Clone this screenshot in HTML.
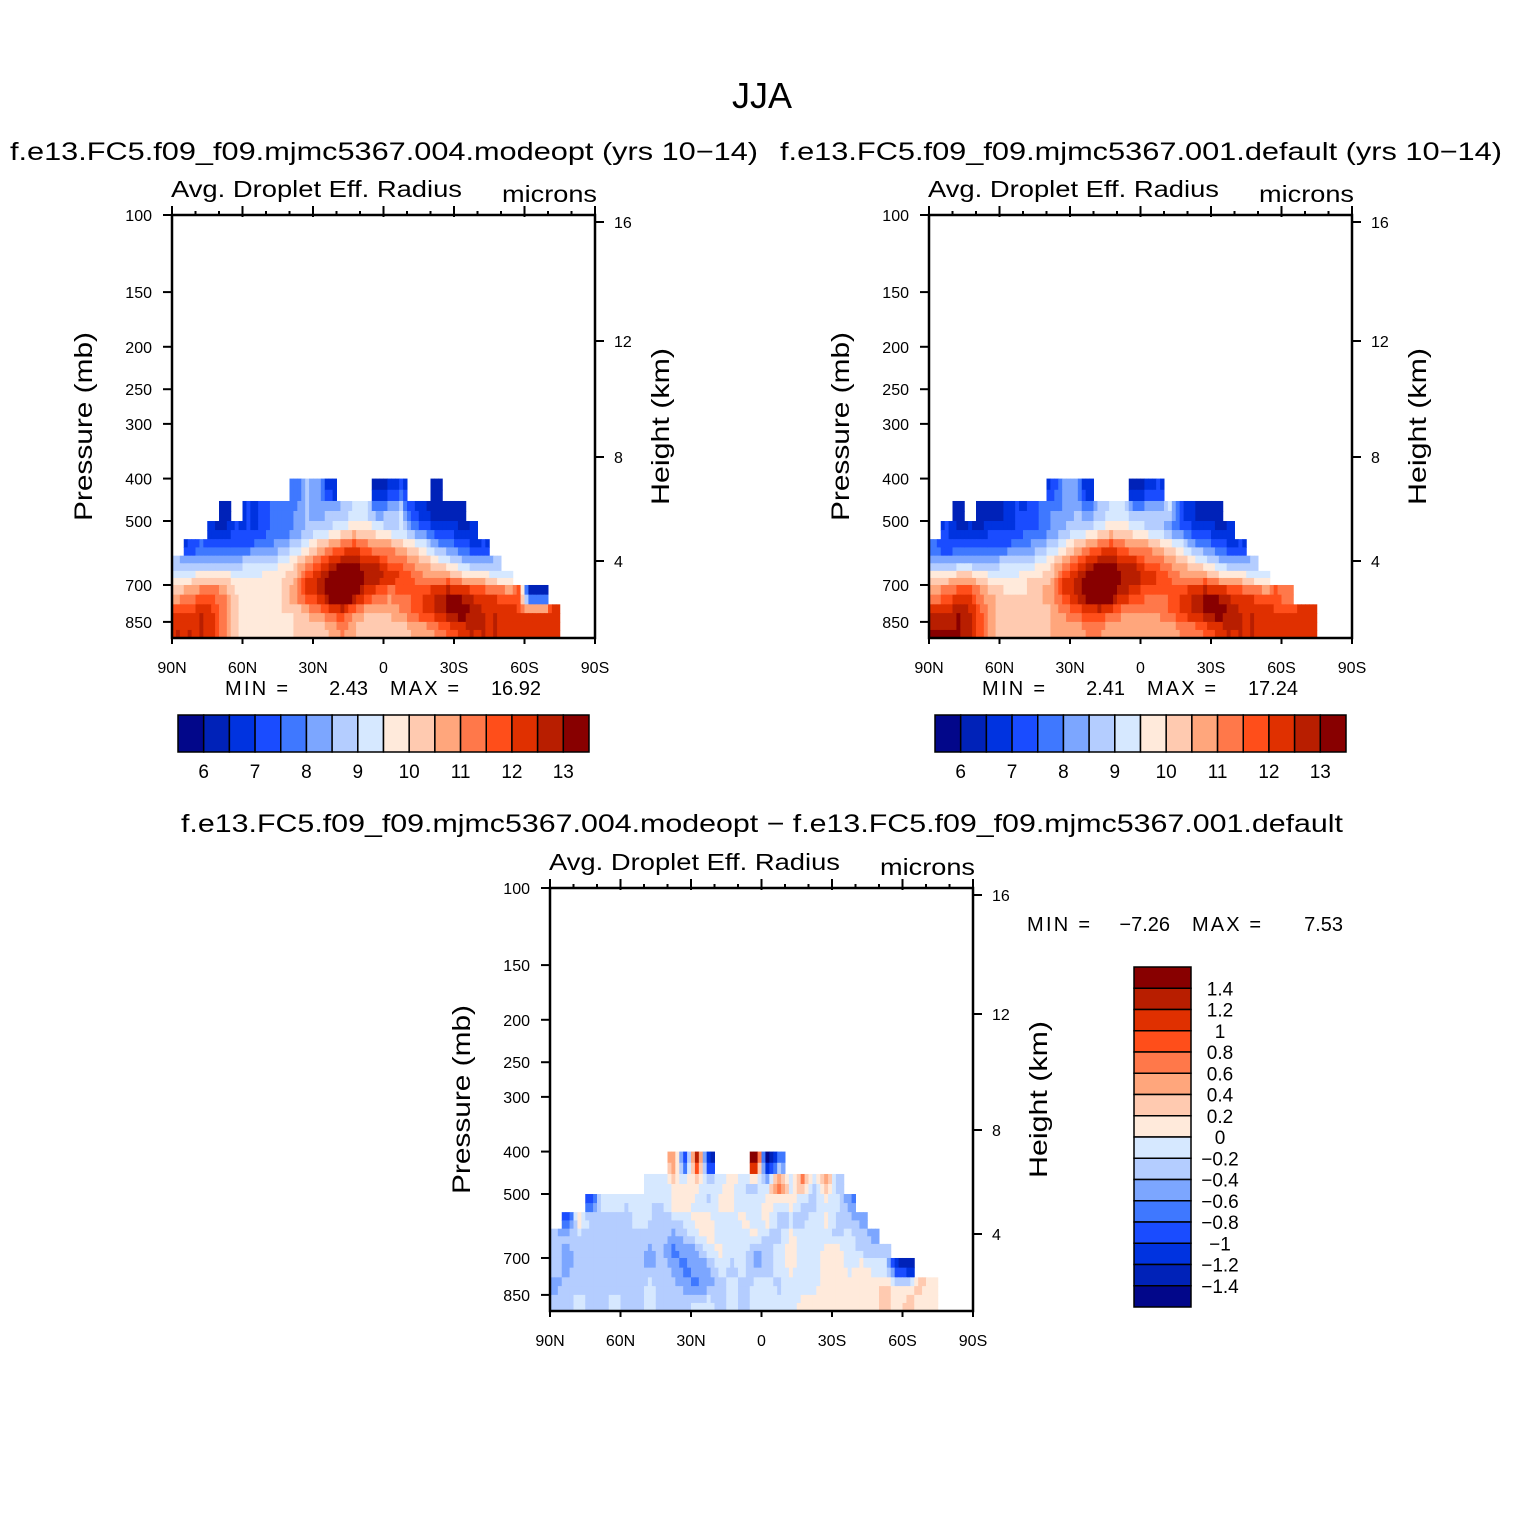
<!DOCTYPE html>
<html><head><meta charset="utf-8"><style>
html,body{margin:0;padding:0;background:#fff;}
svg{display:block;font-family:"Liberation Sans",sans-serif;}
</style></head><body>
<svg id="root" width="1524" height="1524" viewBox="0 0 1524 1524" xmlns="http://www.w3.org/2000/svg">
<rect width="1524" height="1524" fill="#fff"/>
<text x="762" y="108" font-size="36" text-anchor="middle">JJA</text>
<text x="10" y="160" font-size="25" textLength="748" lengthAdjust="spacingAndGlyphs">f.e13.FC5.f09_f09.mjmc5367.004.modeopt (yrs 10−14)</text>
<text x="780" y="160" font-size="25" textLength="722" lengthAdjust="spacingAndGlyphs">f.e13.FC5.f09_f09.mjmc5367.001.default (yrs 10−14)</text>
<text x="181" y="832" font-size="25" textLength="1162" lengthAdjust="spacingAndGlyphs">f.e13.FC5.f09_f09.mjmc5367.004.modeopt − f.e13.FC5.f09_f09.mjmc5367.001.default</text>
</svg>
<script>
// ---- data ----
const pressureLevels=[400,450,500,550,600,650,700,775,850,925];
const latStep=5;
const colorLevelsAbs=[6,6.5,7,7.5,8,8.5,9,9.5,10,10.5,11,11.5,12,12.5,13];
const colorLevelsDiff=[-1.4,-1.2,-1,-0.8,-0.6,-0.4,-0.2,0,0.2,0.4,0.6,0.8,1,1.2,1.4];
const palette=["#02078a","#0022b8","#0033e0","#1a4cff","#3f78ff","#7ca6ff","#b4cdff","#d6e8ff","#ffeadb","#ffcab0","#ffa67c","#ff784a","#ff4e1a","#e03000","#b81e00","#880000"];
const pressureTicks=[100,150,200,250,300,400,500,700,850];
const latTicks=[90,60,30,0,-30,-60,-90];
const latTickLabels=["90N","60N","30N","0","30S","60S","90S"];
const heightTickLabels=["16","12","8","4"];
const absBarLabels=["6","7","8","9","10","11","12","13"];
const diffBarLabels=["1.4","1.2","1","0.8","0.6","0.4","0.2","0","−0.2","−0.4","−0.6","−0.8","−1","−1.2","−1.4"];

const p1Start=[10,4,3,1,0,0,0,0,0];
const p1Rows=[
[7.5,8.5,8,6.5,null,null,null,6,6.5,7,null,null,6],
[6,null,7,7,7.5,7.5,8,8.5,8,8.5,8.5,9,9,8,8.5,9,7,6.5,6,6,6],
[6.5,6.5,7,7,7,7.5,7.5,8,8.5,9,9,9.5,10,10,9.5,9,9,8,7.5,7,7,6.5,6.5],
[7,7.5,7.5,7.5,7.5,7.5,8,8,8.5,9,9.5,10.5,11,11.5,12,11.5,11,11,10.5,10,9.5,8.5,8,7.5,7,7],
[8.5,8.5,8.5,8.5,8.5,8.5,9,9,9,9.5,10,11,11.5,12.5,13,13,12.5,12.5,11.5,11.5,11,10.5,10,9.5,9,8.5,8.5,8.5],
[9.5,9.5,10,10,10,9.5,9.5,9.5,10,10,10.5,12,12.5,13.5,14,14,13,13,12.5,12,11.5,11,11,11,10.5,10,10,9.5,9],
[10.5,11,11.5,11.5,11,10,9.5,9.5,9.5,10,11,12,12.5,13.5,14,13.5,12,11.5,11,11.5,11.5,12,12.5,13,13,12.5,12,12,11.5,11.5,6,6],
[12,12,12.5,12,11,10,9.5,9.5,9.5,10,10,10.5,11,11.5,12,11,10.5,10.5,10.5,11,11.5,12,12.5,13,13.5,13,12.5,12.5,12.5,12,12,12,12],
[12.5,12.5,12.5,12,11,10,9.5,9.5,9.5,9.5,10,10,10,10.5,11,10.5,10,10,10,10,10.5,10.5,11,11.5,12,12.5,12.5,12.5,12,12,12,12,12]];

const p2Start=[10,2,1,0,0,0,0,0,0];
const p2Rows=[
[7,8,8,6.5,null,null,null,6,6.5,7],
[6,null,6,6,6.5,7,7,7.5,8,8,8.5,8,8.5,9,9,8.5,8.5,8.5,9,7,6.5,6,6],
[7,6.5,6.5,6.5,7,7,7,7.5,7.5,8,8.5,9,9,9.5,10,10,9.5,9,9,8,7.5,7,7,6.5,6.5],
[7.5,7,7.5,7.5,7.5,7.5,7.5,8,8,8.5,9,9.5,10.5,11,11.5,12,11.5,11,11,10.5,10,9.5,8.5,8,7.5,7,7],
[8.5,8.5,8.5,8.5,8.5,8.5,9,9,9,9.5,10,11,11.5,12.5,13,13,12.5,12.5,11.5,11.5,11,10.5,10,9.5,9,8.5,8.5,8.5],
[10,10,10.5,10.5,10,9.5,9.5,9.5,10,10,10.5,12,12.5,13.5,14,14,13,13,12.5,12,11.5,11,11,11,10.5,10,10,9.5,9],
[11,11.5,12,12,11,10.5,10,10,10,10.5,11,12,12.5,13.5,14,13.5,12.5,12,11.5,11.5,11.5,12,12.5,13,13,12.5,12,12,11.5,11.5,11],
[12.5,12.5,13,12.5,11.5,10.5,10,10,10,10,10.5,11,11.5,12,12,11.5,11,11,11,11,11.5,12,12.5,13,13.5,13,12.5,12.5,12.5,12,12,12,12],
[13,13,13,12.5,11.5,10.5,10,10,10,10,10.5,10.5,10.5,11,11,10.5,10.5,10.5,10.5,10.5,10.5,11,11,11.5,12,12.5,12.5,12.5,12,12,12,12,12]];

const p3Start=[10,8,3,1,0,0,0,0,0];
const p3Rows=[
[0.5,-1.0,1.2,-1.2,null,null,null,1.5,-1.5,-0.8],
[-0.1,-0.2,0.1,0.1,0.1,-0.1,-0.1,0.1,-0.2,-0.3,-0.1,1.0,-0.1,0.6,-0.2,0.5,-0.3],
[-0.9,-0.1,-0.1,-0.2,-0.1,-0.2,-0.2,0.1,0.1,-0.1,-0.3,0.1,0.1,-0.2,-0.1,0.1,-0.1,0.1,-0.3,-0.3,-0.1,-0.1,-0.6],
[-0.9,0.1,-0.2,-0.3,-0.3,-0.3,-0.1,-0.2,-0.3,-0.3,-0.1,0.1,0.1,-0.2,-0.1,0.1,-0.1,0.1,-0.3,-0.3,-0.3,-0.1,0.1,-0.3,-0.3,-0.5],
[-0.4,-0.3,-0.3,-0.3,-0.3,-0.3,-0.3,-0.3,-0.3,-0.3,-0.5,-0.3,-0.1,0.1,-0.1,-0.1,-0.1,0.1,-0.3,-0.3,0.1,-0.1,-0.1,-0.1,-0.3,-0.1,-0.3,-0.5],
[-0.3,-0.5,-0.3,-0.3,-0.3,-0.3,-0.3,-0.3,-0.5,-0.3,-0.7,-0.5,-0.5,-0.1,0.1,-0.1,-0.1,-0.5,-0.3,-0.1,0.1,-0.1,-0.1,0.1,0.1,-0.1,-0.3,-0.3,-0.3],
[-0.3,-0.5,-0.3,-0.3,-0.3,-0.3,-0.3,-0.3,-0.5,-0.3,-0.5,-0.7,-0.5,-0.5,-0.1,-0.3,-0.1,-0.5,-0.3,-0.1,0.1,-0.1,-0.1,0.1,0.1,-0.1,0.1,-0.1,-0.1,-1.2,-1.4],
[-0.5,-0.3,-0.3,-0.3,-0.3,-0.3,-0.3,-0.3,-0.1,-0.3,-0.3,-0.5,-0.7,-0.5,-0.3,-0.1,-0.3,-0.1,-0.1,-0.3,-0.1,-0.1,-0.1,0.1,0.1,0.1,0.1,0.1,0.3,0.1,0.1,0.3,0.1],
[-0.3,-0.3,-0.1,-0.3,-0.3,-0.1,-0.3,-0.3,-0.1,-0.3,-0.3,-0.3,-0.1,-0.1,-0.3,-0.1,-0.3,-0.1,-0.1,-0.1,-0.1,0.1,0.1,0.1,0.1,0.1,0.1,0.1,0.3,0.1,0.3,0.1,0.1]];

const minMax1=["2.43","16.92"], minMax2=["2.41","17.24"], minMax3=["−7.26","7.53"];

// ---- drawing ----
const NS="http://www.w3.org/2000/svg";
const root=document.getElementById('root');
function mk(tag,attrs,parent){const e=document.createElementNS(NS,tag);for(const k in attrs)e.setAttribute(k,attrs[k]);(parent||root).appendChild(e);return e;}
function colorIndex(v,levels){let i=0;while(i<levels.length&&v>=levels[i])i++;return i;}
const W=423,H=423,PXDEC=437.8;
const SUBX=3,SUBY=2;

function drawPanel(x0,y0,starts,rows,levels,mm,mmPos,name){
  const g=mk('g',{});
  
  
  const xs=lat=>x0+(90-lat)*W/180;
  const ys=p=>y0+Math.log10(p/100)*PXDEC;
  const val=(r,c)=>{if(r<0||r>=rows.length)return null;const i=c-starts[r];if(i<0||i>=rows[r].length)return null;const v=rows[r][i];return v===undefined?null:v;};
  const cells=mk('g',{},g);
  
  
  rows.forEach((row,r)=>{
    const ya=ys(pressureLevels[r]),yb=ys(pressureLevels[r+1]);
    row.forEach((v,i)=>{
      if(v===null)return;
      const c=starts[r]+i;
      const xa=xs(90-c*latStep),xb=xs(90-(c+1)*latStep);
      for(let sy=0;sy<SUBY;sy++){
        for(let sx=0;sx<SUBX;sx++){
          const fx=(sx+0.5)/SUBX-0.5, fy=(sy+0.5)/SUBY-0.5;
          const cn=c+(fx<0?-1:1), rn=r+(fy<0?-1:1);
          const ax=Math.abs(fx), ay=Math.abs(fy);
          const vx=val(r,cn)===null?v:val(r,cn);
          const vy=val(rn,c)===null?v:val(rn,c);
          let vxy=val(rn,cn); if(vxy===null) vxy=(vx+vy)/2;
          const iv=v*(1-ax)*(1-ay)+vx*ax*(1-ay)+vy*(1-ax)*ay+vxy*ax*ay;
          const cw=(xb-xa)/SUBX, ch=(yb-ya)/SUBY;
          const rc=mk('rect',{x:(xa+sx*cw).toFixed(2),y:(ya+sy*ch).toFixed(2),width:(cw+0.5).toFixed(2),height:(ch+0.5).toFixed(2),fill:palette[colorIndex(iv,levels)]},cells);
          
          
        }
      }
    });
  });
  const fr=mk('rect',{x:x0,y:y0,width:W,height:H,fill:'none',stroke:'#000','stroke-width':2.5},g);
  
  
  for(let lat=90;lat>=-90;lat-=10){
    const major=(lat%30===0);
    mk('line',{x1:xs(lat),x2:xs(lat),y1:y0-(major?9:4),y2:y0+(major?2:0),stroke:'#000','stroke-width':2},g);
  }
  latTicks.forEach((lat,i)=>{
    mk('line',{x1:xs(lat),x2:xs(lat),y1:y0+H,y2:y0+H+6,stroke:'#000','stroke-width':2},g);
    const t=mk('text',{x:xs(lat),y:y0+H+35,'font-size':16,'text-anchor':'middle'},g);
    t.textContent=latTickLabels[i];
    
    
  });
  pressureTicks.forEach(p=>{
    const y=ys(p);
    mk('line',{x1:x0-9,x2:x0,y1:y,y2:y,stroke:'#000','stroke-width':2},g);
    const t=mk('text',{x:x0-20,y:y+6,'font-size':16,'text-anchor':'end'},g);
    t.textContent=String(p);
    
    
  });
  const hOff=[7,126,242,346];
  heightTickLabels.forEach((lb,i)=>{
    const y=y0+hOff[i];
    mk('line',{x1:x0+W,x2:x0+W+9,y1:y,y2:y,stroke:'#000','stroke-width':2},g);
    const t=mk('text',{x:x0+W+19,y:y+6,'font-size':16},g);
    t.textContent=lb;
    
    
  });
  let t=mk('text',{x:x0-1,y:y0-18,'font-size':23,textLength:291,lengthAdjust:'spacingAndGlyphs'},g);t.textContent='Avg. Droplet Eff. Radius';
  
  
  t=mk('text',{x:x0+W-93,y:y0-13,'font-size':23,textLength:95,lengthAdjust:'spacingAndGlyphs'},g);t.textContent='microns';
  
  
  t=mk('text',{x:-94,y:0,'font-size':25,textLength:189,lengthAdjust:'spacingAndGlyphs',transform:`translate(${x0-80},${y0+212}) rotate(-90)`},g);t.textContent='Pressure (mb)';
  
  
  t=mk('text',{x:-78,y:0,'font-size':25,textLength:157,lengthAdjust:'spacingAndGlyphs',transform:`translate(${x0+W+74},${y0+212}) rotate(-90)`},g);t.textContent='Height (km)';
  
  
  const [mx,my]=mmPos;
  const parts=[['MIN =',mx,'start',63],[mm[0],mx+143,'end',0],['MAX =',mx+165,'start',69],[mm[1],mx+316,'end',0]];
  parts.forEach(pp=>{const at={x:pp[1],y:my,'font-size':20,'text-anchor':pp[2]};if(pp[3]){at.textLength=pp[3];at.lengthAdjust='spacing';}
    const tt=mk('text',at,g);tt.textContent=pp[0];
    
    });
}
function hBar(x0,y0,name){
  const g=mk('g',{});
  
  
  const w=411/16;
  palette.forEach((c,i)=>{const r=mk('rect',{x:x0+i*w,y:y0,width:w,height:37,fill:c,stroke:'#000','stroke-width':1.5},g);
    
    });
  absBarLabels.forEach((lb,i)=>{const t=mk('text',{x:x0+(1+2*i)*w,y:y0+63,'font-size':19,'text-anchor':'middle'},g);t.textContent=lb;
    
    });
}
function vBar(x0,y0,name){
  const g=mk('g',{});
  
  
  const h=340/16;
  palette.slice().reverse().forEach((c,i)=>{const r=mk('rect',{x:x0,y:y0+i*h,width:57,height:h,fill:c,stroke:'#000','stroke-width':1.5},g);
    
    });
  diffBarLabels.forEach((lb,i)=>{const t=mk('text',{x:x0+86,y:y0+(i+1)*h+7,'font-size':19,'text-anchor':'middle'},g);t.textContent=lb;
    
    });
}
drawPanel(172,215,p1Start,p1Rows,colorLevelsAbs,minMax1,[225,695],'panel-modeopt');
drawPanel(929,215,p2Start,p2Rows,colorLevelsAbs,minMax2,[982,695],'panel-default');
drawPanel(550,888,p3Start,p3Rows,colorLevelsDiff,minMax3,[1027,931],'panel-difference');
hBar(178,715,'colorbar-modeopt');
hBar(935,715,'colorbar-default');
vBar(1134,967,'colorbar-difference');
</script>
</body></html>
